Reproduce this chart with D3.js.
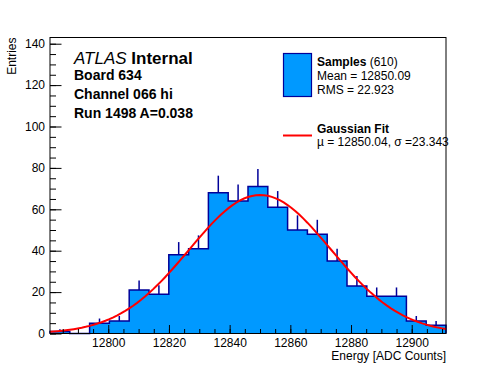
<!DOCTYPE html>
<html>
<head>
<meta charset="utf-8">
<script src="https://cdn.jsdelivr.net/npm/d3@7"></script>
<style>
  body { margin: 0; background: #fff; }
  svg { display: block; font-family: "Liberation Sans", Arial, Helvetica, sans-serif; }
  .axis text { font-size: 12px; fill: #000; }
  .axis line, .axis path { stroke: #000; }
</style>
</head>
<body>
<svg id="chart" width="496" height="372"></svg>
<script>
// histogram contents (20 equal bins)
const binCounts = [1, 0, 5, 6, 21, 19, 38, 41, 68, 64, 71, 61, 50, 48, 35, 23, 18, 18, 6, 4];
const xRange = [12780.8, 12911.3];
const yRange = [0, 143];
const xTickValues = [12800, 12820, 12840, 12860, 12880, 12900];
const yTickValues = [0, 20, 40, 60, 80, 100, 120, 140];

// gaussian fit parameters (from the legend)
const fitMu = 12850.04;
const fitSigma = 23.343;
const fitConst = 66.9;

const infoLines = ["Board 634", "Channel 066 hi", "Run 1498 A=0.038"];

const frame = {left: 50, right: 446, top: 37.5, bottom: 333.5};
const fillColor = "#0099ff";
const lineColor = "#000099";

let svg = d3.select("#chart");

let x = d3.scaleLinear().domain(xRange).range([frame.left, frame.right]);
let y = d3.scaleLinear().domain(yRange).range([frame.bottom, frame.top]);

let binWidth = (xRange[1] - xRange[0]) / binCounts.length;
let bins = binCounts.map((n, i) => ({
    x0: xRange[0] + i * binWidth,
    x1: xRange[0] + (i + 1) * binWidth,
    n: n
}));

// step outline, used for both the fill and the border
let steps = [[xRange[0], 0]];
bins.forEach(d => { steps.push([d.x0, d.n]); steps.push([d.x1, d.n]); });
steps.push([xRange[1], 0]);
let stepLine = d3.line().x(d => x(d[0])).y(d => y(d[1]));

svg.append("path")
    .attr("d", stepLine(steps) + "Z")
    .attr("fill", fillColor);

// error bars (upper half shows above the fill)
svg.append("g").selectAll("line").data(bins.filter(d => d.n > 0)).enter().append("line")
    .attr("x1", d => x((d.x0 + d.x1) / 2))
    .attr("x2", d => x((d.x0 + d.x1) / 2))
    .attr("y1", d => y(d.n))
    .attr("y2", d => y(d.n + Math.sqrt(d.n)))
    .attr("stroke", lineColor)
    .attr("stroke-width", 1.5);

svg.append("path")
    .attr("d", stepLine(steps))
    .attr("fill", "none")
    .attr("stroke", lineColor)
    .attr("stroke-width", 1.5);

// fit curve, sampled like ROOT does (100 points)
let fitPoints = d3.range(101).map(i => {
    let xv = xRange[0] + i * (xRange[1] - xRange[0]) / 100;
    return [xv, fitConst * Math.exp(-0.5 * Math.pow((xv - fitMu) / fitSigma, 2))];
});
svg.append("path")
    .attr("d", stepLine(fitPoints))
    .attr("fill", "none")
    .attr("stroke", "#ff0000")
    .attr("stroke-width", 2);

// axes, ticks pointing inside the frame
let minorX = d3.range(12785, xRange[1], 5);
let minorY = d3.range(0, yRange[1], 5);

svg.append("g").attr("class", "axis")
    .attr("transform", `translate(0,${frame.bottom})`)
    .call(d3.axisBottom(x).tickValues(minorX).tickSize(-4.5).tickFormat(""))
    .call(g => g.select(".domain").remove());
svg.append("g").attr("class", "axis")
    .attr("transform", `translate(0,${frame.bottom})`)
    .call(d3.axisBottom(x).tickValues(xTickValues).tickSize(-8.5).tickPadding(4.5).tickFormat(d3.format("d")))
    .call(g => g.select(".domain").remove());

svg.append("g").attr("class", "axis")
    .attr("transform", `translate(${frame.left},0)`)
    .call(d3.axisLeft(y).tickValues(minorY).tickSize(-6).tickFormat(""))
    .call(g => g.select(".domain").remove());
svg.append("g").attr("class", "axis")
    .attr("transform", `translate(${frame.left},0)`)
    .call(d3.axisLeft(y).tickValues(yTickValues).tickSize(-11.5).tickPadding(5))
    .call(g => g.select(".domain").remove());

// frame
svg.append("rect")
    .attr("x", frame.left)
    .attr("y", frame.top)
    .attr("width", frame.right - frame.left)
    .attr("height", frame.bottom - frame.top)
    .attr("fill", "none")
    .attr("stroke", "#000")
    .attr("stroke-width", 1);

// axis titles
svg.append("text")
    .attr("x", frame.right).attr("y", 359.5)
    .attr("text-anchor", "end")
    .attr("font-size", 12)
    .text("Energy [ADC Counts]");
svg.append("text")
    .attr("transform", `translate(16,${frame.top}) rotate(-90)`)
    .attr("text-anchor", "end")
    .attr("font-size", 12)
    .text("Entries");

// ATLAS label and run info
let atlas = svg.append("text").attr("x", 74).attr("y", 63.5).attr("font-size", 17);
atlas.append("tspan").attr("font-style", "italic").text("ATLAS");
atlas.append("tspan").attr("font-weight", "bold").text(" Internal");

svg.append("g").selectAll("text").data(infoLines).enter().append("text")
    .attr("x", 74)
    .attr("y", (d, i) => 80 + i * 19)
    .attr("font-size", 14)
    .attr("font-weight", "bold")
    .text(d => d);

// legend
svg.append("rect")
    .attr("x", 283.5).attr("y", 53.5)
    .attr("width", 28).attr("height", 43)
    .attr("fill", fillColor)
    .attr("stroke", lineColor)
    .attr("stroke-width", 1.2);
let sampTitle = svg.append("text").attr("x", 317).attr("y", 66).attr("font-size", 12);
sampTitle.append("tspan").attr("font-weight", "bold").text("Samples");
sampTitle.append("tspan").text(" (610)");
svg.append("text").attr("x", 317).attr("y", 80).attr("font-size", 12).text("Mean = 12850.09");
svg.append("text").attr("x", 317).attr("y", 94).attr("font-size", 12).text("RMS = 22.923");

svg.append("line")
    .attr("x1", 283).attr("x2", 312)
    .attr("y1", 135.5).attr("y2", 135.5)
    .attr("stroke", "#ff0000")
    .attr("stroke-width", 2);
svg.append("text").attr("x", 317).attr("y", 132.5).attr("font-size", 12)
    .attr("font-weight", "bold").text("Gaussian Fit");
svg.append("text").attr("x", 317).attr("y", 145.5).attr("font-size", 12)
    .text("\u00b5 = 12850.04, \u03c3 =23.343");
</script>
</body>
</html>
